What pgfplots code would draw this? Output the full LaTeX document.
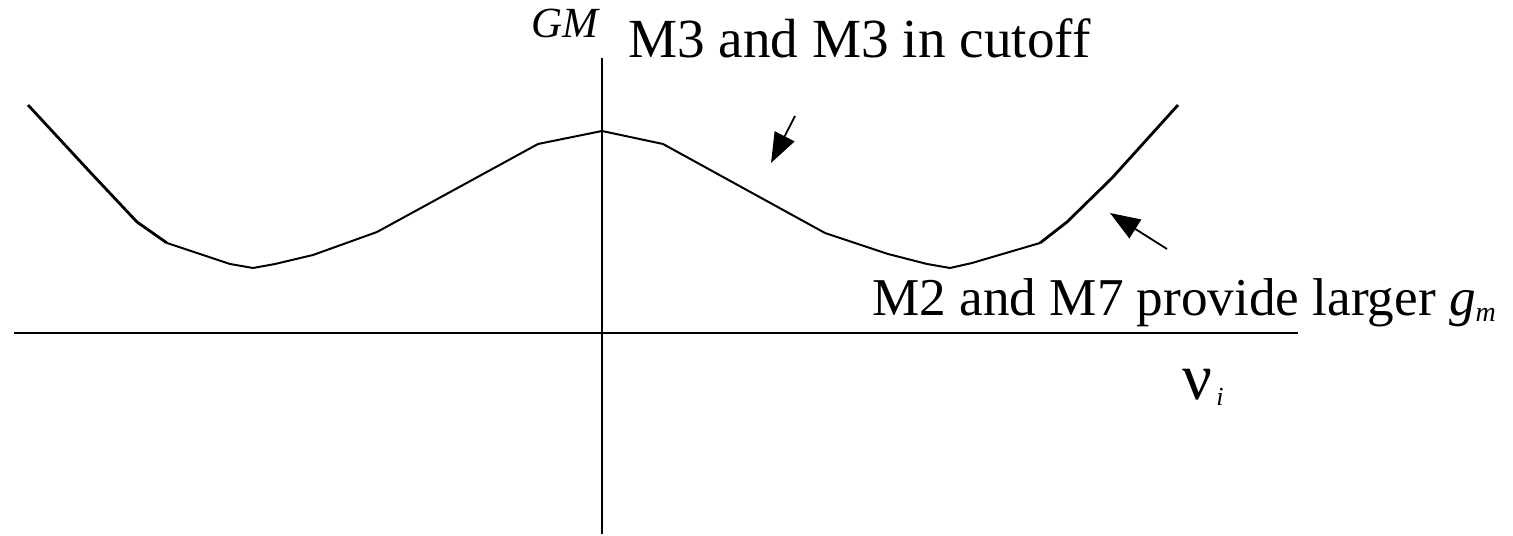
\documentclass[border=0pt]{standalone}
\usepackage{fontspec}
\setmainfont{Liberation Serif}
\usepackage{pgfplots}
\pgfplotsset{compat=1.18}
\usetikzlibrary{arrows.meta}
\begin{document}
\begin{tikzpicture}
\begin{axis}[
  scale only axis, width=756.5pt, height=267pt,
  xmin=0, xmax=1513, ymin=0, ymax=534,
  axis lines=none, clip=false,
]
\path (rel axis cs:0,0) rectangle (rel axis cs:1,1);
% axes
\addplot[black, line width=1pt] coordinates {(14,201) (1298,201)};
\addplot[black, line width=1pt] coordinates {(602,476) (602,0)};
% curve: outer thicker parts
\addplot[black, line width=1.4pt, line join=round] coordinates {(28,429) (90,362) (137,312) (167,291)};
\addplot[black, line width=1pt, line join=round] coordinates {
 (167,291) (230,270) (253,266) (275,270) (313,279) (377,302) (538,390) (602,403)
 (663,390) (825,301) (888,280) (927,270) (950,266) (972,271) (1040,291)};
\addplot[black, line width=1.4pt, line join=round] coordinates {(1040,291) (1067,312) (1112,356) (1178,429)};
% arrows
\draw[line width=0.9pt, -{Triangle[length=15pt,width=11pt]}] (axis cs:795,418) -- (axis cs:771,371);
\draw[line width=0.9pt, -{Triangle[length=15pt,width=11pt]}] (axis cs:1167,285) -- (axis cs:1110,321);
% texts
\node[anchor=base west, inner sep=0pt, font=\fontsize{21.5pt}{23pt}\selectfont\itshape] at (axis cs:531,496) {GM};
\node[anchor=base west, inner sep=0pt, font=\fontsize{27.6pt}{29pt}\selectfont] at (axis cs:628,476) {M3 and M3 in cutoff};
\node[anchor=base west, inner sep=0pt, font=\fontsize{26.6pt}{28pt}\selectfont] at (axis cs:872,218) {M2 and M7 provide larger {\itshape g}\raisebox{-3pt}{\fontsize{14pt}{15pt}\selectfont\itshape m}};
\node[anchor=base west, inner sep=0pt, font=\fontsize{33pt}{34pt}\selectfont] at (axis cs:1182,134) {ν\hspace{2pt}\raisebox{-3pt}{\fontsize{13pt}{14pt}\selectfont\itshape i}};
\end{axis}
\end{tikzpicture}
\end{document}
